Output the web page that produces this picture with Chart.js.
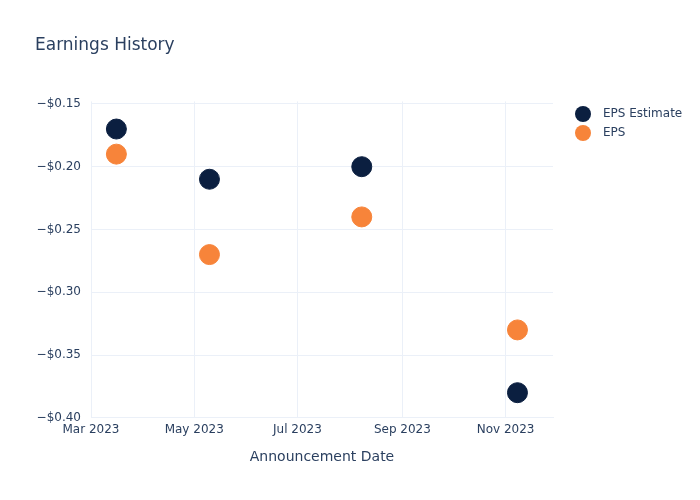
<!DOCTYPE html>
<html>
<head>
<meta charset="utf-8">
<script src="https://cdn.jsdelivr.net/npm/chart.js@4"></script>
<style>
  body { margin: 0; background: #fff; }
  #wrap { width: 700px; height: 500px; }
</style>
</head>
<body>
<div id="wrap"><canvas id="myChart" width="700" height="500"></canvas></div>
<script>
// announcement dates and values
const dates = ['2023-03-16', '2023-05-10', '2023-08-08', '2023-11-08'];
const epsEstimate = [-0.17, -0.21, -0.20, -0.38];
const eps = [-0.19, -0.27, -0.24, -0.33];

const tickDates = ['2023-03-01', '2023-05-01', '2023-07-01', '2023-09-01', '2023-11-01'];
const tickLabels = ['Mar 2023', 'May 2023', 'Jul 2023', 'Sep 2023', 'Nov 2023'];

const yTicks = [-0.40, -0.35, -0.30, -0.25, -0.20, -0.15];

function ts(d) { return new Date(d + 'T00:00:00Z').getTime(); }

const textColor = '#2a3f5f';
const gridColor = '#ebf0f8';
const font = 'DejaVu Sans';

function points(vals) {
  return dates.map((d, i) => ({ x: ts(d), y: vals[i] }));
}

// legend drawn at the right, next to the top of the plot
const sideLegend = {
  id: 'sideLegend',
  afterDraw(chart) {
    const c = chart.ctx;
    c.save();
    c.font = '12px "' + font + '"';
    c.textBaseline = 'middle';
    chart.data.datasets.forEach((ds, i) => {
      const y = 114 + i * 19;
      c.beginPath();
      c.arc(583, y, 8, 0, Math.PI * 2);
      c.fillStyle = ds.backgroundColor;
      c.fill();
      c.fillStyle = textColor;
      c.fillText(ds.label, 603, y);
    });
    c.restore();
  }
};

Chart.defaults.font.family = font;
Chart.defaults.color = textColor;

var ctx = document.getElementById('myChart').getContext('2d');

var myChart = new Chart(ctx, {
  type: 'scatter',
  data: {
    datasets: [
      {
        label: 'EPS Estimate',
        data: points(epsEstimate),
        backgroundColor: '#0b1f40',
        borderColor: '#0b1f40',
        pointRadius: 10,
        pointHoverRadius: 10
      },
      {
        label: 'EPS',
        data: points(eps),
        backgroundColor: '#f7843a',
        borderColor: '#f7843a',
        pointRadius: 10,
        pointHoverRadius: 10
      }
    ]
  },
  plugins: [sideLegend],
  options: {
    responsive: false,
    animation: false,
    layout: { padding: { left: 35, right: 147, top: 29, bottom: 30 } },
    plugins: {
      title: {
        display: true,
        text: 'Earnings History',
        align: 'start',
        color: textColor,
        font: { size: 17, weight: 'normal', family: font },
        padding: { top: 6, bottom: 46 }
      },
      legend: { display: false },
      tooltip: { enabled: false }
    },
    scales: {
      x: {
        type: 'linear',
        min: ts('2023-03-01'),
        max: ts('2023-11-29'),
        afterBuildTicks: (axis) => {
          axis.ticks = tickDates.map(d => ({ value: ts(d) }));
        },
        ticks: {
          color: textColor,
          font: { size: 12 },
          maxRotation: 0,
          padding: 5,
          callback: (v) => {
            const i = tickDates.findIndex(d => ts(d) === v);
            return i >= 0 ? tickLabels[i] : '';
          }
        },
        grid: { color: gridColor, drawTicks: false },
        border: { display: true, color: gridColor },
        title: {
          display: true,
          text: 'Announcement Date',
          color: textColor,
          font: { size: 14 },
          padding: { top: 7 }
        }
      },
      y: {
        min: -0.40,
        max: -0.148,
        afterBuildTicks: (axis) => {
          axis.ticks = yTicks.map(v => ({ value: v }));
        },
        afterFit: (axis) => { axis.width = 56; },
        ticks: {
          color: textColor,
          font: { size: 12 },
          padding: 10,
          callback: (v) => '\u2212$' + Math.abs(v).toFixed(2)
        },
        grid: { color: gridColor, drawTicks: false },
        border: { display: false }
      }
    }
  }
});
</script>
</body>
</html>
